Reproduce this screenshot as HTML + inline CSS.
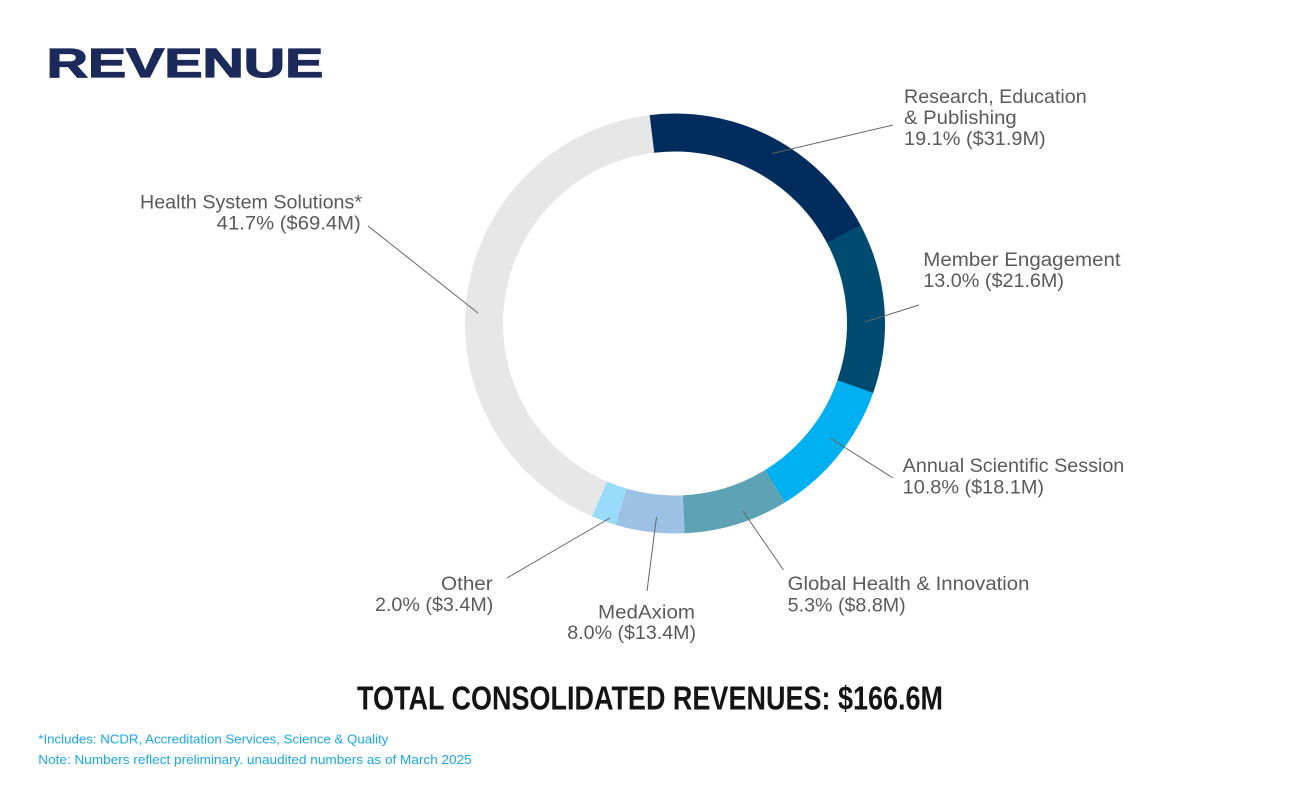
<!DOCTYPE html>
<html>
<head>
<meta charset="utf-8">
<style>
  html,body{margin:0;padding:0;background:#fff;}
  svg{display:block;}
  .lbl{font-family:"Liberation Sans",sans-serif;font-size:19px;fill:#5a5a5a;}
  .ld{stroke:#666;stroke-width:1;fill:none;}
</style>
</head>
<body>
<svg width="1300" height="800" viewBox="0 0 1300 800" xmlns="http://www.w3.org/2000/svg">
  <rect width="1300" height="800" fill="#fff"/>

  <!-- Title -->
  <text x="46.7" y="77" font-family="Liberation Sans, sans-serif" font-weight="bold" font-size="41" fill="#1b2a5a" stroke="#1b2a5a" stroke-width="1.2" textLength="276.6" lengthAdjust="spacingAndGlyphs">REVENUE</text>

  <!-- Donut -->
  <g fill="none" stroke-width="38">
    <circle cx="675" cy="323.5" r="191" stroke="#012c5e" stroke-dasharray="230.35 1200.09" transform="rotate(-97 675 323.5)"/>
    <circle cx="675" cy="323.5" r="191" stroke="#004b70" stroke-dasharray="157.35 1200.09" transform="rotate(-27.9 675 323.5)"/>
    <circle cx="675" cy="323.5" r="191" stroke="#00b0f0" stroke-dasharray="130.34 1200.09" transform="rotate(19.3 675 323.5)"/>
    <circle cx="675" cy="323.5" r="191" stroke="#5ea2b5" stroke-dasharray="96.67 1200.09" transform="rotate(58.4 675 323.5)"/>
    <circle cx="675" cy="323.5" r="191" stroke="#9cc1e5" stroke-dasharray="63.34 1200.09" transform="rotate(87.4 675 323.5)"/>
    <circle cx="675" cy="323.5" r="191" stroke="#98dbfa" stroke-dasharray="23.0 1200.09" transform="rotate(106.4 675 323.5)"/>
    <circle cx="675" cy="323.5" r="191" stroke="#e7e7e7" stroke-dasharray="499.03 1200.09" transform="rotate(113.3 675 323.5)"/>
  </g>

  <!-- Leader lines -->
  <line class="ld" x1="772" y1="153.5" x2="893" y2="125"/>
  <line class="ld" x1="865" y1="322" x2="919" y2="305"/>
  <line class="ld" x1="368" y1="226" x2="478" y2="313"/>
  <line class="ld" x1="830" y1="438" x2="893" y2="478"/>
  <line class="ld" x1="742.5" y1="510.5" x2="783.5" y2="570"/>
  <line class="ld" x1="610" y1="518" x2="507" y2="578"/>
  <line class="ld" x1="656.5" y1="517" x2="647" y2="591"/>

  <!-- Labels -->
  <text class="lbl" x="904" y="103" textLength="182.7" lengthAdjust="spacingAndGlyphs">Research, Education</text>
  <text class="lbl" x="904" y="124" textLength="112.7" lengthAdjust="spacingAndGlyphs">&amp; Publishing</text>
  <text class="lbl" x="904" y="145" textLength="141.7" lengthAdjust="spacingAndGlyphs">19.1% ($31.9M)</text>

  <text class="lbl" x="923.3" y="266" textLength="197.3" lengthAdjust="spacingAndGlyphs">Member Engagement</text>
  <text class="lbl" x="923.3" y="287" textLength="140.7" lengthAdjust="spacingAndGlyphs">13.0% ($21.6M)</text>

  <text class="lbl" x="140" y="208.5" textLength="222" lengthAdjust="spacingAndGlyphs">Health System Solutions*</text>
  <text class="lbl" x="216.7" y="229.5" textLength="144" lengthAdjust="spacingAndGlyphs">41.7% ($69.4M)</text>

  <text class="lbl" x="902.7" y="472" textLength="221.6" lengthAdjust="spacingAndGlyphs">Annual Scientific Session</text>
  <text class="lbl" x="902.7" y="493.5" textLength="141.3" lengthAdjust="spacingAndGlyphs">10.8% ($18.1M)</text>

  <text class="lbl" x="787.7" y="590" textLength="241.7" lengthAdjust="spacingAndGlyphs">Global Health &amp; Innovation</text>
  <text class="lbl" x="787.7" y="611.5" textLength="118" lengthAdjust="spacingAndGlyphs">5.3% ($8.8M)</text>

  <text class="lbl" x="441" y="590" textLength="51.7" lengthAdjust="spacingAndGlyphs">Other</text>
  <text class="lbl" x="375" y="611" textLength="118.3" lengthAdjust="spacingAndGlyphs">2.0% ($3.4M)</text>

  <text class="lbl" x="598" y="618.5" textLength="97" lengthAdjust="spacingAndGlyphs">MedAxiom</text>
  <text class="lbl" x="567.3" y="639" textLength="128.7" lengthAdjust="spacingAndGlyphs">8.0% ($13.4M)</text>

  <!-- Total -->
  <text x="357" y="709.7" font-family="Liberation Sans, sans-serif" font-weight="bold" font-size="33" fill="#141414" textLength="586" lengthAdjust="spacingAndGlyphs">TOTAL CONSOLIDATED REVENUES: $166.6M</text>

  <!-- Footnotes -->
  <text x="38.3" y="743.3" font-family="Liberation Sans, sans-serif" font-size="13" fill="#1aa7e6" textLength="350" lengthAdjust="spacingAndGlyphs">*Includes: NCDR, Accreditation Services, Science &amp; Quality</text>
  <text x="38.3" y="764" font-family="Liberation Sans, sans-serif" font-size="13" fill="#1aa7e6" textLength="433.4" lengthAdjust="spacingAndGlyphs">Note: Numbers reflect preliminary. unaudited numbers as of March 2025</text>
</svg>
</body>
</html>
